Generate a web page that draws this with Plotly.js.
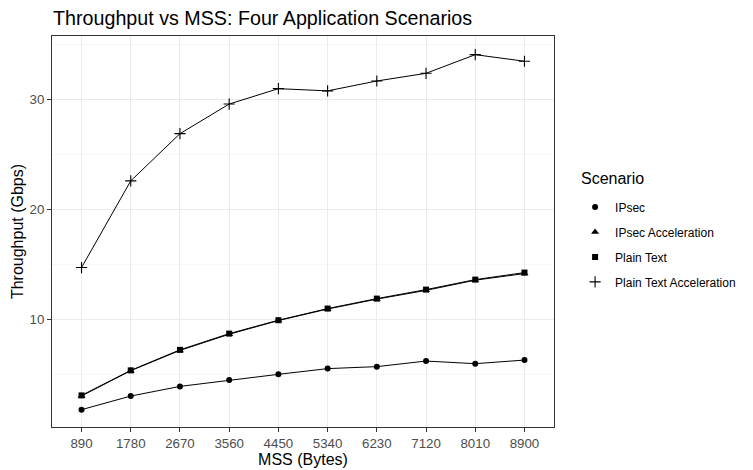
<!DOCTYPE html>
<html>
<head>
<meta charset="utf-8">
<script src="https://cdn.plot.ly/plotly-3.0.1.min.js"></script>
<style>html,body{margin:0;padding:0;background:#fff;}#chart{width:753px;height:470px;}</style>
</head>
<body>
<div id="chart"></div>
<script>
const mss = [890, 1780, 2670, 3560, 4450, 5340, 6230, 7120, 8010, 8900];
const scenarios = ["IPsec", "IPsec Acceleration", "Plain Text", "Plain Text Acceleration"];
const ipsec = [1.75, 2.99, 3.87, 4.45, 4.97, 5.49, 5.67, 6.18, 5.94, 6.27];
const ipsecAccel = [3.0, 5.3, 7.15, 8.62, 9.87, 10.92, 11.82, 12.62, 13.55, 14.15];
const plainText = [3.05, 5.33, 7.2, 8.68, 9.9, 10.96, 11.87, 12.69, 13.6, 14.24];
const plainTextAccel = [14.7, 22.6, 26.9, 29.6, 31.0, 30.8, 31.7, 32.4, 34.1, 33.5];
const xTicks = ["890", "1780", "2670", "3560", "4450", "5340", "6230", "7120", "8010", "8900"];
const yTicks = [10, 20, 30];

const series = [ipsec, ipsecAccel, plainText, plainTextAccel];
const symbols = ["circle", "triangle-up", "square", "cross-thin-open"];
const sizes = [6, 7, 6, 8];

const traces = [];
series.forEach((ys, i) => {
  traces.push({
    x: mss, y: ys, type: "scatter", mode: "lines",
    line: {color: "#000", width: 1}, showlegend: false, hoverinfo: "skip"
  });
});
series.forEach((ys, i) => {
  traces.push({
    x: mss, y: ys, type: "scatter", mode: "markers", name: scenarios[i],
    legendgroup: "g" + i,
    marker: {symbol: symbols[i], size: sizes[i], color: "#000",
             line: {color: "#000", width: i === 3 ? 1.1 : 0}}
  });
});

const layout = {
  width: 753, height: 470,
  margin: {l: 52, r: 191, t: 36, b: 43},
  paper_bgcolor: "#fff", plot_bgcolor: "#fff",
  font: {family: "Liberation Sans, Arial, sans-serif", color: "#000"},
  title: {text: "Throughput vs MSS: Four Application Scenarios",
          font: {size: 19.7, color: "#000"},
          x: 53 / 753, xref: "container", xanchor: "left",
          y: 1 - 18 / 470, yref: "container", yanchor: "middle"},
  xaxis: {
    range: [890 - 0.6 * 890, 8900 + 0.6 * 890],
    tickvals: mss, ticktext: xTicks,
    tickfont: {size: 13.3, color: "#4d4d4d"},
    ticks: "outside", ticklen: 4, tickcolor: "#333", tickwidth: 1,
    showgrid: true, gridcolor: "#ebebeb", gridwidth: 1,
    zeroline: false, showline: true, linecolor: "#333", linewidth: 1, mirror: true,
    title: {text: "MSS (Bytes)", font: {size: 16, color: "#000"}, standoff: 2}
  },
  yaxis: {
    range: [0.17, 35.8],
    tickvals: yTicks,
    tickfont: {size: 13.3, color: "#4d4d4d"},
    ticks: "outside", ticklen: 4, tickcolor: "#333", tickwidth: 1,
    showgrid: true, gridcolor: "#ebebeb", gridwidth: 1,
    minor: {tickmode: "linear", tick0: 5, dtick: 10, showgrid: true, gridcolor: "#f2f2f2", gridwidth: 0.6, ticks: ""},
    zeroline: false, showline: true, linecolor: "#333", linewidth: 1, mirror: true,
    title: {text: "Throughput (Gbps)", font: {size: 16, color: "#000"}, standoff: 1}
  },
  legend: {
    x: 1.042, xanchor: "left", y: 0.60, yanchor: "top",
    font: {size: 12, color: "#000"},
    tracegroupgap: 6, bgcolor: "rgba(0,0,0,0)"
  },
  annotations: [{
    text: "Scenario", xref: "paper", yref: "paper",
    x: (587 - 52) / 510, xanchor: "left",
    y: (427 - 178) / 391, yanchor: "middle",
    showarrow: false, font: {size: 16, color: "#000"}
  }]
};

Plotly.newPlot("chart", traces, layout, {displayModeBar: false, staticPlot: true});
</script>
</body>
</html>
